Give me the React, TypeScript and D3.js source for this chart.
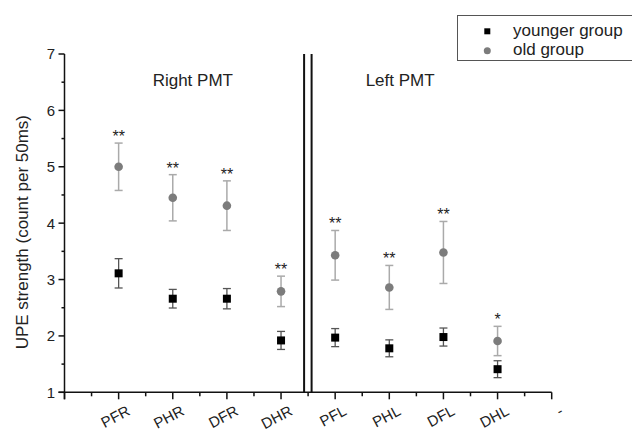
import React from "react";
import * as d3 from "d3";

const categories = ["PFR", "PHR", "DFR", "DHR", "PFL", "PHL", "DFL", "DHL"];
const tickLabels = ["PFR", "PHR", "DFR", "DHR", "PFL", "PHL", "DFL", "DHL", "-"];
const youngValues = [3.11, 2.66, 2.66, 1.92, 1.97, 1.78, 1.98, 1.41];
const youngErrors = [0.26, 0.165, 0.18, 0.16, 0.16, 0.15, 0.16, 0.15];
const oldValues = [5.0, 4.45, 4.31, 2.79, 3.43, 2.86, 3.48, 1.91];
const oldErrors = [0.42, 0.41, 0.44, 0.27, 0.44, 0.39, 0.55, 0.26];
const significance = ["**", "**", "**", "**", "**", "**", "**", "*"];
const yTicks = [1, 2, 3, 4, 5, 6, 7];
const panelLabels = ["Right PMT", "Left PMT"];
const panelPositions = [2.37, 6.2];
const breakPosition = 4.5;
const legendLabels = ["younger group", "old group"];

const FONT = "'Liberation Sans', Arial, Helvetica, sans-serif";

export default function App() {
  const x = d3.scaleLinear().domain([0, 9]).range([64.5, 551.7]);
  const y = d3.scaleLinear().domain([1, 7]).range([392.3, 54]);

  const majorX = d3.range(0, 10);
  const minorX = d3.range(0.5, 9, 1);
  const minorY = d3.range(1.5, 7, 1);

  const cap = 4;
  const bx = x(breakPosition);

  return (
    <svg
      width={632}
      height={432}
      style={{ position: "absolute", left: 0, top: 0, background: "#fff" }}
      fontFamily={FONT}
    >
      <rect x={0} y={0} width={632} height={432} fill="#fff" />

      {/* Y axis */}
      <line x1={x(0)} x2={x(0)} y1={y(7)} y2={y(1) + 7} stroke="#111" strokeWidth={1.5} />
      {yTicks.map((t) => (
        <g key={"yt" + t}>
          <line x1={x(0) - 6} x2={x(0)} y1={y(t)} y2={y(t)} stroke="#111" strokeWidth={1.5} />
          <text
            x={x(0) - 9.5}
            y={y(t)}
            dy="0.36em"
            textAnchor="end"
            fontSize={15}
            fill="#222"
          >
            {t}
          </text>
        </g>
      ))}
      {minorY.map((t) => (
        <line key={"ym" + t} x1={x(0) - 3} x2={x(0)} y1={y(t)} y2={y(t)} stroke="#111" strokeWidth={1.5} />
      ))}

      {/* X axis */}
      <line x1={x(0) - 6} x2={x(9)} y1={y(1)} y2={y(1)} stroke="#111" strokeWidth={1.5} />
      {majorX.map((t) => (
        <line key={"xt" + t} x1={x(t)} x2={x(t)} y1={y(1)} y2={y(1) + 7} stroke="#111" strokeWidth={1.5} />
      ))}
      {minorX.map((t) => (
        <line key={"xm" + t} x1={x(t)} x2={x(t)} y1={y(1)} y2={y(1) + 4} stroke="#111" strokeWidth={1.5} />
      ))}
      {tickLabels.map((lab, i) => {
        const ax = x(i + 1) + 10;
        const ay = 409.5;
        return (
          <text
            key={"xl" + i}
            x={ax}
            y={ay}
            dy="0.35em"
            textAnchor="end"
            fontSize={15}
            fill="#222"
            transform={`rotate(-28 ${ax} ${ay})`}
          >
            {lab}
          </text>
        );
      })}

      {/* Break lines */}
      <line x1={bx - 4} x2={bx - 4} y1={y(7)} y2={y(1)} stroke="#111" strokeWidth={2} />
      <line x1={bx + 3.5} x2={bx + 3.5} y1={y(7)} y2={y(1)} stroke="#111" strokeWidth={2} />

      {/* Y axis title */}
      <text
        transform={`translate(22, ${(y(1) + y(7)) / 2 + 9}) rotate(-90)`}
        textAnchor="middle"
        dy="0.35em"
        fontSize={17}
        fill="#222"
      >
        UPE strength (count per 50ms)
      </text>

      {/* Panel labels */}
      {panelLabels.map((lab, i) => (
        <text key={"pl" + i} x={x(panelPositions[i])} y={86} textAnchor="middle" fontSize={17} fill="#222">
          {lab}
        </text>
      ))}

      {/* Old group */}
      {categories.map((c, i) => {
        const cx = x(i + 1);
        const top = y(oldValues[i] + oldErrors[i]);
        const bot = y(oldValues[i] - oldErrors[i]);
        return (
          <g key={"old" + c}>
            <line x1={cx} x2={cx} y1={top} y2={bot} stroke="#aaa" strokeWidth={1.5} />
            <line x1={cx - cap} x2={cx + cap} y1={top} y2={top} stroke="#aaa" strokeWidth={1.5} />
            <line x1={cx - cap} x2={cx + cap} y1={bot} y2={bot} stroke="#aaa" strokeWidth={1.5} />
            <circle cx={cx} cy={y(oldValues[i])} r={4.3} fill="#7c7c7c" />
            <text x={cx} y={top - 1} textAnchor="middle" fontSize={16} fill="#222">
              {significance[i]}
            </text>
          </g>
        );
      })}

      {/* Younger group */}
      {categories.map((c, i) => {
        const cx = x(i + 1);
        const top = y(youngValues[i] + youngErrors[i]);
        const bot = y(youngValues[i] - youngErrors[i]);
        const cy = y(youngValues[i]);
        return (
          <g key={"young" + c}>
            <line x1={cx} x2={cx} y1={top} y2={bot} stroke="#555" strokeWidth={1.3} />
            <line x1={cx - cap} x2={cx + cap} y1={top} y2={top} stroke="#555" strokeWidth={1.3} />
            <line x1={cx - cap} x2={cx + cap} y1={bot} y2={bot} stroke="#555" strokeWidth={1.3} />
            <rect x={cx - 4} y={cy - 4} width={8} height={8} fill="#000" />
          </g>
        );
      })}

      {/* Legend */}
      <rect x={457.5} y={15.5} width={180} height={45} fill="#fff" stroke="#555" strokeWidth={1} />
      <rect x={484.3} y={28.3} width={6} height={6} fill="#000" />
      <circle cx={487.3} cy={50.7} r={3.5} fill="#7c7c7c" />
      <text x={513} y={36} fontSize={17} fill="#222">
        {legendLabels[0]}
      </text>
      <text x={513} y={55} fontSize={17} fill="#222">
        {legendLabels[1]}
      </text>
    </svg>
  );
}
